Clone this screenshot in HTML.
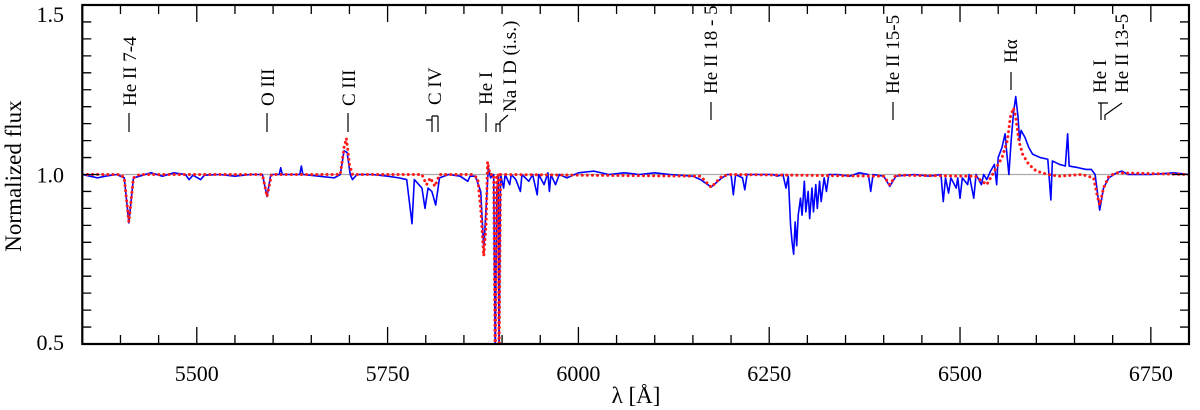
<!DOCTYPE html>
<html><head><meta charset="utf-8"><style>
html,body{margin:0;padding:0;background:#fff;}
svg{display:block;font-family:"Liberation Serif","Times New Roman",serif;}
svg text{font-family:"Liberation Serif","Times New Roman",serif;}
</style></head><body>
<svg id="chart" width="1200" height="410" viewBox="0 0 1200 410" xmlns="http://www.w3.org/2000/svg" font-family="Liberation Serif, Times New Roman, serif">
<defs><clipPath id="plotclip"><rect x="82.3" y="5" width="1106.7" height="339"/></clipPath></defs>
<g id="grid"></g>
<g id="series" clip-path="url(#plotclip)"></g>
<g id="axes"></g>
<g id="labels" font-size="19" fill="#000"></g>
</svg>
<script>
const xDomain=[5350,6800];
const yDomain=[0.5,1.5];
const xMajorTicks=[5500,5750,6000,6250,6500,6750];
const xTickLabels=["5500","5750","6000","6250","6500","6750"];
const yMajorTicks=[0.5,1.0,1.5];
const yTickLabels=["0.5","1.0","1.5"];
const observed=[[5350,1.0],[5360,0.995],[5370,0.99],[5380,0.995],[5395,1.0],[5405,0.99],[5411,0.857],[5417,0.99],[5425,0.995],[5440,1.005],[5455,0.995],[5470,1.005],[5485,1.0],[5490,0.985],[5495,0.998],[5505,0.985],[5510,0.998],[5530,1.0],[5550,0.995],[5570,1.0],[5586,1.0],[5592,0.935],[5597,1.0],[5608,1.0],[5610,1.02],[5612,1.0],[5635,1.0],[5637,1.025],[5639,1.0],[5660,0.995],[5680,0.99],[5688,1.0],[5693,1.07],[5697,1.065],[5701,1.0],[5704,0.985],[5710,1.0],[5730,1.0],[5750,0.995],[5765,0.99],[5775,0.985],[5782,0.855],[5785,0.985],[5795,0.96],[5799,0.90],[5803,0.96],[5808,0.95],[5813,0.91],[5818,0.99],[5830,1.0],[5845,0.995],[5855,0.98],[5858,0.995],[5865,0.995],[5872,0.95],[5876,0.78],[5879,0.9],[5882,1.02],[5885,0.99],[5889,1.0],[5891,0.45],[5893,0.95],[5895,1.0],[5896,0.45],[5898,1.0],[5902,0.96],[5904,1.0],[5910,0.97],[5912,1.0],[5918,0.985],[5924,0.95],[5926,1.0],[5935,0.98],[5940,1.0],[5946,0.94],[5948,1.0],[5955,0.97],[5960,1.005],[5962,0.95],[5964,1.0],[5970,0.97],[5975,1.0],[5985,0.99],[6000,1.005],[6020,1.01],[6040,1.0],[6060,1.005],[6080,1.0],[6100,1.005],[6120,1.0],[6150,0.995],[6160,0.985],[6174,0.963],[6188,0.99],[6195,1.0],[6200,1.0],[6203,0.94],[6206,1.0],[6215,0.99],[6218,0.955],[6221,1.0],[6240,1.0],[6255,1.0],[6260,0.995],[6268,1.0],[6272,0.96],[6275,0.995],[6278,0.85],[6280,0.80],[6282,0.765],[6284,0.86],[6286,0.79],[6288,0.88],[6291,0.93],[6293,0.88],[6296,0.98],[6298,0.89],[6301,0.95],[6303,0.87],[6306,0.96],[6308,0.89],[6311,0.97],[6313,0.90],[6316,0.98],[6318,0.92],[6322,0.99],[6325,0.95],[6328,1.0],[6340,1.0],[6355,0.995],[6368,1.005],[6380,1.0],[6383,0.95],[6386,1.0],[6400,0.995],[6408,0.965],[6416,0.995],[6440,1.0],[6460,0.995],[6475,1.0],[6478,0.92],[6481,0.99],[6485,0.945],[6488,0.99],[6495,0.96],[6497,0.99],[6500,0.93],[6503,0.99],[6510,0.97],[6512,1.0],[6518,0.93],[6521,1.0],[6528,0.97],[6531,1.0],[6535,0.985],[6540,1.01],[6545,1.03],[6548,0.97],[6550,1.05],[6555,1.08],[6559,1.12],[6561,1.07],[6564,1.0],[6567,1.1],[6570,1.18],[6573,1.23],[6576,1.17],[6578,1.1],[6580,1.13],[6585,1.11],[6590,1.08],[6595,1.06],[6605,1.05],[6615,1.045],[6619,0.925],[6621,1.04],[6630,1.03],[6638,1.025],[6641,1.12],[6643,1.025],[6655,1.02],[6665,1.015],[6672,1.015],[6677,1.0],[6683,0.895],[6688,0.96],[6695,0.99],[6705,1.005],[6712,1.01],[6720,1.0],[6750,1.0],[6780,1.005],[6800,1.0]];
const model=[[5350,1.0],[5400,1.0],[5405,0.99],[5411,0.86],[5417,0.99],[5425,1.0],[5586,1.0],[5592,0.935],[5598,1.0],[5688,1.0],[5693,1.08],[5696,1.107],[5700,1.03],[5704,1.0],[5795,1.0],[5801,0.97],[5806,0.99],[5812,0.965],[5818,1.0],[5860,1.0],[5868,0.99],[5872,0.9],[5876,0.76],[5879,0.85],[5881,1.037],[5884,1.0],[5889,1.0],[5891,0.45],[5893,1.0],[5895,1.0],[5896,0.45],[5898,1.0],[6160,0.995],[6174,0.962],[6188,0.995],[6200,1.0],[6400,0.995],[6408,0.97],[6416,0.998],[6520,0.995],[6535,0.97],[6545,1.01],[6555,1.05],[6562,1.1],[6566,1.17],[6570,1.196],[6573,1.17],[6577,1.1],[6582,1.06],[6590,1.03],[6600,1.01],[6615,1.0],[6630,0.995],[6660,1.0],[6675,0.99],[6680,0.935],[6683,0.91],[6688,0.96],[6695,0.995],[6705,1.005],[6800,1.0]];

const L=82.3,R=1189,T=5,B=344;
const FF="Liberation Serif, Times New Roman, serif";
const sx=v=>L+(v-xDomain[0])/(xDomain[1]-xDomain[0])*(R-L);
const sy=v=>B-(v-yDomain[0])/(yDomain[1]-yDomain[0])*(B-T);
const NS="http://www.w3.org/2000/svg";
function mk(tag,attrs,parent){const e=document.createElementNS(NS,tag);for(const k in attrs)e.setAttribute(k,attrs[k]);if(tag==='text')e.setAttribute('font-family',FF);parent.appendChild(e);return e;}
const grid=document.getElementById('grid'),series=document.getElementById('series'),axes=document.getElementById('axes'),labels=document.getElementById('labels');

const ref=mk('line',{x1:L,x2:R,y1:sy(1),y2:sy(1),stroke:'#aaa','stroke-width':1.2},grid);



const pth=a=>a.map((p,i)=>(i?'L':'M')+sx(p[0]).toFixed(2)+','+sy(p[1]).toFixed(2)).join('');
const obs=mk('path',{d:pth(observed),fill:'none',stroke:'#0000ff','stroke-width':1.6,'stroke-linejoin':'round'},series);


const mod=mk('path',{d:pth(model),fill:'none',stroke:'#ff1a1a','stroke-width':3,'stroke-dasharray':'0.1 5','stroke-linecap':'round','stroke-linejoin':'round'},series);



const frame=mk('rect',{x:L,y:T,width:R-L,height:B-T,fill:'none',stroke:'#000','stroke-width':2.2},axes);


let td='';
for(let v=xDomain[0];v<=xDomain[1];v+=50){const x=sx(v);const len=(v%250===0)?17:9;td+=`M${x},${B}V${B-len}M${x},${T}V${T+len}`;}
for(let k=0;k<=20;k++){const v=yDomain[0]+k*0.05;const y=sy(v);const len=(k%10===0)?17:9;td+=`M${L},${y}H${L+len}M${R},${y}H${R-len}`;}
const ticks=mk('path',{d:td,stroke:'#000','stroke-width':1.3,fill:'none'},axes);


xMajorTicks.forEach((v,i)=>{const t=mk('text',{x:sx(v),y:381,'text-anchor':'middle','font-size':22},axes);t.textContent=xTickLabels[i];

});
yMajorTicks.forEach((v,i)=>{const t=mk('text',{x:64,y:Math.min(Math.max(sy(v)+8,22),350),'text-anchor':'end','font-size':22},axes);t.textContent=yTickLabels[i];

});
const xt=mk('text',{x:636,y:403,'text-anchor':'middle','font-size':23},axes);xt.textContent='λ [Å]';


const yt=mk('text',{x:0,y:0,'text-anchor':'middle','font-size':23,transform:'translate(21,176) rotate(-90)'},axes);yt.textContent='Normalized flux';



const lineLabels=[["He II 7-4",130,106],["O III",268,106],["C III",349,106],["C IV",435,105],["He I",486,105],["Na I D (i.s.)",510,112],["He II 18 - 5",711,94],["He II 15-5",893,94],["Hα",1011,63],["He I",1100,93],["He II 13-5",1122,93]];
lineLabels.forEach(l=>{const t=mk('text',{x:0,y:0,transform:`translate(${l[1]+6},${l[2]}) rotate(-90)`,'font-size':19},labels);t.textContent=l[0];

});
const md="M129,113V132M267,113V132M348,113V132M711,102V120M893,102V120M1011,72V90M486,113V132"+
"M426,120H432M432,116V132M432,116H438M438,116V132"+
"M496,132V124H500V132M500,124V122L508,115"+
"M1098,103H1108M1101,103V120M1105,120V115L1122,103";
const marks=mk('path',{d:md,stroke:'#000','stroke-width':1.2,fill:'none'},labels);


</script>
</body></html>
